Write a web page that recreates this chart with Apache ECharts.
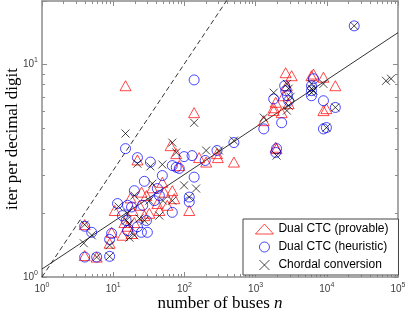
<!DOCTYPE html>
<html><head><meta charset="utf-8">
<script src="https://cdn.jsdelivr.net/npm/echarts@6/dist/echarts.min.js"></script>
<style>html,body{margin:0;padding:0;background:#fff}#c{width:407px;height:315px}</style>
</head><body><div id="c"></div>
<script>
const legendNames = ['Dual CTC (provable)', 'Dual CTC (heuristic)', 'Chordal conversion'];
const xRange = [1, 100000];
const yRange = [1, 19.7];

const provable = [[3.98,1.76],[3.98,1.26],[5.86,1.24],[8.91,1.44],[9.5,1.62],[10.5,2.05],[14.4,1.80],[13.5,1.57],[18.7,2.05],[18.1,1.60],[14.9,7.89],[21.9,3.54],[35.5,2.62],[49,2.78],[52.2,2.5],[67.6,2.54],[72.1,2.33],[64,4.13],[76.8,3.79],[84.6,3.33],[117,2.05],[137,5.90],[202,3.46],[287,3.79],[295,3.63],[496,3.46],[1303,5.41],[1795,6.22],[1915,6.6],[1795,6.03],[1915,4.06],[2642,9.08],[3206,8.79],[2750,7.89],[2477,7.08],[2911,6.5],[2323,5.9],[6500,8.95],[6095,8.79],[8970,8.65],[13180,7.89],[9870,6.16],[8970,6.03],[1970,4.0],[23.4,2.17],[29.3,2.41],[32.2,1.99],[41.7,2.21],[44.5,2.05],[27.4,1.94],[19.8,1.8],[15.9,1.73],[57.5,2.17],[161,3.63],[17.5,2.35],[25,2.5]];
const heuristic = [[3.98,1.73],[4.99,1.62],[3.98,1.24],[5.86,1.24],[8.91,1.25],[8.91,1.50],[9.5,1.60],[11.5,2.21],[15.9,2.17],[18.1,2.13],[15.2,1.84],[15.9,1.65],[24.9,1.62],[30.2,1.62],[27.4,2.81],[14.9,4.0],[21.9,3.63],[33.3,3.46],[49,2.99],[41.7,2.60],[67.6,3.33],[76.8,3.27],[84.6,3.23],[128,3.71],[137,8.4],[137,2.94],[117,2.37],[117,2.25],[67.6,2.01],[26,2.17],[29.3,1.84],[21.9,1.72],[196,3.52],[287,3.92],[496,4.27],[1303,4.95],[1795,6.84],[2323,5.29],[2642,7.48],[2800,7.08],[2911,6.71],[2560,7.89],[6095,7.89],[6095,7.48],[6095,7.08],[6500,8.51],[8970,6.71],[8970,4.95],[13180,6.24],[9870,5.02],[24270,15.06],[1915,3.84],[1970,4.0],[44.5,2.41],[99,3.67],[37.8,2.28],[19.8,2.54],[13.5,1.94]];
const chordal = [[3.98,1.76],[4.99,1.57],[3.86,1.44],[5.86,1.24],[8.91,1.25],[8.91,1.41],[11.9,2.14],[15.9,1.99],[15.2,1.84],[16.9,1.78],[16.9,1.53],[14.9,4.71],[21.9,3.40],[33.3,3.3],[49,3.37],[67.6,4.27],[76.8,3.84],[137,5.29],[146,2.60],[117,2.37],[67.6,2.28],[35.5,2.74],[27.4,1.84],[23.4,1.88],[202,3.92],[306,3.92],[496,4.36],[1303,5.59],[1795,7.32],[2750,8.05],[2911,7.64],[3100,7.0],[2911,6.36],[2750,6.03],[6095,8.05],[6095,7.64],[6095,7.32],[6500,7.48],[8970,8.05],[13180,6.24],[9870,5.02],[24270,15.06],[67920,8.32],[79800,8.51],[1970,3.71],[50,2.28],[44.5,1.94],[99,2.69],[32.2,2.28],[19.8,2.41],[19.8,1.57]];

// reference lines (endpoints only)
const sqrtLine = [[1,1],[1000,31.62]];
const fitLine = [[1,1.09],[100000,14.0]];

const axisColor = '#8c8c8c';
const labelColor = '#404040';

// minor tick positions (axis decoration)
const minorTicks = [];
for (let k = 0; k < 5; k++) for (let m = 2; m <= 9; m++) minorTicks.push([m * Math.pow(10, k), 1, 0]);
for (let m = 2; m <= 9; m++) minorTicks.push([1, m, 1]);

function powLabel(v) {
  const e = Math.log10(v);
  if (Math.abs(e - Math.round(e)) > 1e-6) return '';
  return '{b|10}{e|' + Math.round(e) + '}';
}
const richLab = {
  b: {fontSize: 10, fontFamily: 'Liberation Sans', color: labelColor},
  e: {fontSize: 7, fontFamily: 'Liberation Sans', color: labelColor, padding: [0, 0, 8, 0]}
};

const chart = echarts.init(document.getElementById('c'), null, {renderer: 'canvas'});
const baseAxis = {
  type: 'log', logBase: 10,
  axisLine: {show: true, lineStyle: {color: axisColor, width: 1.5}},
  axisTick: {show: true, inside: true, length: 5, lineStyle: {color: axisColor, width: 1}},
  splitLine: {show: false},
  minorTick: {show: false}
};
chart.setOption({
  animation: false,
  backgroundColor: '#fff',
  grid: {left: 42, right: 9, top: 1, bottom: 38, containLabel: false, outerBoundsMode: 'none'},
  legend: {
    orient: 'vertical', left: 243, top: 219,
    padding: [4, 10, 4, 12], itemGap: 6, itemWidth: 18, itemHeight: 10,
    backgroundColor: '#fff', borderColor: '#444', borderWidth: 1, borderRadius: 0,
    itemStyle: {borderWidth: 0.9},
    textStyle: {fontSize: 12, fontFamily: 'Liberation Sans', color: '#000'},
    data: legendNames
  },
  xAxis: [
    Object.assign({}, baseAxis, {
      min: xRange[0], max: xRange[1], position: 'bottom',
      axisLabel: {formatter: powLabel, rich: richLab, margin: 5},
      name: '{a|number of buses }{i|n}', nameLocation: 'middle', nameGap: 18, nameMoveOverlap: false,
      nameTextStyle: {rich: {
        a: {fontSize: 17, fontFamily: 'Liberation Serif', color: '#000'},
        i: {fontSize: 17, fontFamily: 'Liberation Serif', fontStyle: 'italic', color: '#000'}
      }}
    }),
    Object.assign({}, baseAxis, {
      min: xRange[0], max: xRange[1], position: 'top',
      axisLabel: {show: false}
    })
  ],
  yAxis: [
    Object.assign({}, baseAxis, {
      min: yRange[0], max: yRange[1], position: 'left',
      axisLabel: {formatter: powLabel, rich: richLab, margin: 4},
      name: 'iter per decimal digit', nameLocation: 'middle', nameGap: 21, nameMoveOverlap: false,
      nameTextStyle: {fontSize: 17, fontFamily: 'Liberation Serif', color: '#000'}
    }),
    Object.assign({}, baseAxis, {
      min: yRange[0], max: yRange[1], position: 'right',
      axisLabel: {show: false}
    })
  ],
  series: [
    {
      type: 'custom', silent: true, clip: false, xAxisIndex: 0, yAxisIndex: 0,
      data: minorTicks,
      renderItem: function (params, api) {
        const cs = params.coordSys;
        const flag = api.value(2);
        const st = {stroke: axisColor, lineWidth: 1};
        if (flag === 0) {
          const x = Math.round(api.coord([api.value(0), 1])[0]) + 0.5;
          return {type: 'group', children: [
            {type: 'line', shape: {x1: x, y1: cs.y + cs.height, x2: x, y2: cs.y + cs.height - 3}, style: st},
            {type: 'line', shape: {x1: x, y1: cs.y, x2: x, y2: cs.y + 3}, style: st}
          ]};
        }
        const y = Math.round(api.coord([1, api.value(1)])[1]) + 0.5;
        return {type: 'group', children: [
          {type: 'line', shape: {x1: cs.x, y1: y, x2: cs.x + 3, y2: y}, style: st},
          {type: 'line', shape: {x1: cs.x + cs.width, y1: y, x2: cs.x + cs.width - 3, y2: y}, style: st}
        ]};
      }
    },
    {
      type: 'line', data: sqrtLine, showSymbol: false, silent: true,
      lineStyle: {color: '#000', width: 0.8, type: [5, 3]}, z: 1
    },
    {
      type: 'line', data: fitLine, showSymbol: false, silent: true,
      lineStyle: {color: '#000', width: 0.8}, z: 1
    },
    {
      name: legendNames[0], type: 'scatter', data: provable, symbol: 'triangle', symbolSize: [11, 10],
      itemStyle: {color: 'transparent', borderColor: '#ff0000', borderWidth: 0.9}, z: 2
    },
    {
      name: legendNames[1], type: 'scatter', data: heuristic, symbol: 'circle', symbolSize: 10,
      itemStyle: {color: 'transparent', borderColor: '#0000ff', borderWidth: 0.9}, z: 3
    },
    {
      name: legendNames[2], type: 'scatter', data: chordal, symbol: 'path://M0,0L10,10M10,0L0,10', symbolSize: 8,
      itemStyle: {color: 'transparent', borderColor: '#000', borderWidth: 0.9}, z: 4
    }
  ]
});
</script>
</body></html>
